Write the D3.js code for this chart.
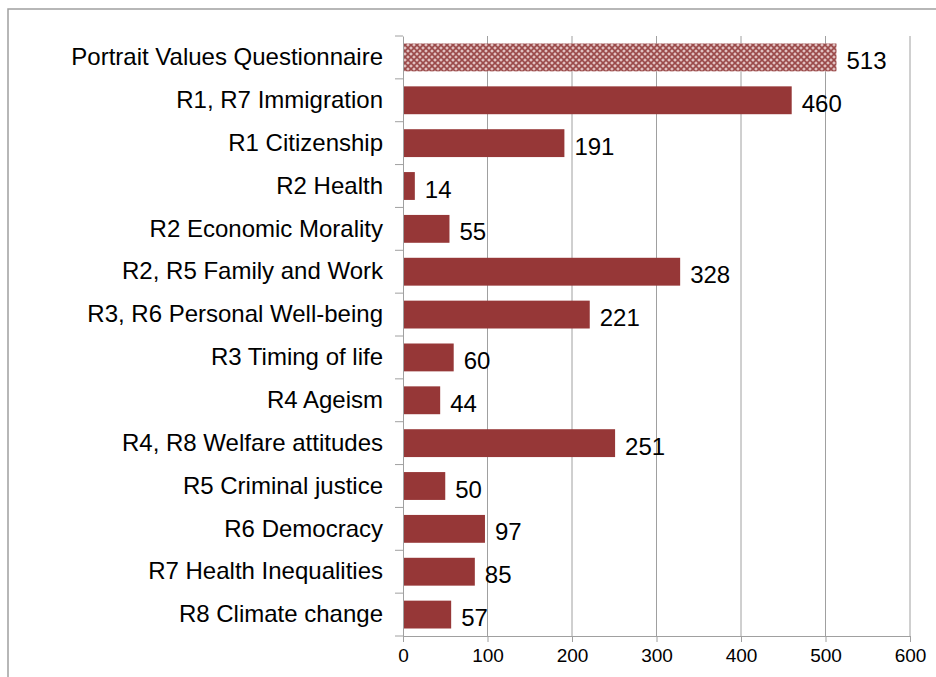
<!DOCTYPE html>
<html><head><meta charset="utf-8">
<script src="https://cdn.jsdelivr.net/npm/d3@7"></script>
<style>body{margin:0;background:#fff}svg{display:block}</style>
</head><body><svg id="c" width="936" height="677"></svg>
<script>
const categories=["Portrait Values Questionnaire","R1, R7 Immigration","R1 Citizenship","R2 Health","R2 Economic Morality","R2, R5 Family and Work","R3, R6 Personal Well-being","R3 Timing of life","R4 Ageism","R4, R8 Welfare attitudes","R5 Criminal justice","R6 Democracy","R7 Health Inequalities","R8 Climate change"];
const values=[513,460,191,14,55,328,221,60,44,251,50,97,85,57];
const xTicks=[0,100,200,300,400,500,600];
const svg=d3.select("#c");
const defs=svg.append("defs");
const p=defs.append("pattern").attr("id","hatch").attr("width",6).attr("height",6).attr("patternUnits","userSpaceOnUse");
p.append("rect").attr("width",6).attr("height",6).attr("fill","#e2c2c2");
p.append("path").attr("d","M0,0L6,6M6,0L0,6").attr("stroke","#9a4a4a").attr("stroke-width",1.6);
svg.append("path").attr("d","M8,677V9H936").attr("fill","none").attr("stroke","#a0a0a0").attr("stroke-width",1.5);
const x=d3.scaleLinear().domain([0,600]).range([403,910]);
const y=d3.scaleBand().domain(categories).range([36,636]).paddingInner(0.35).paddingOuter(0.175);
const g=svg.append("g");
g.selectAll(".grid").data(xTicks.slice(1)).join("line").attr("x1",d=>x(d)).attr("x2",d=>x(d)).attr("y1",36).attr("y2",636).attr("stroke","#a0a0a0");
g.selectAll(".bar").data(values).join("rect").attr("x",x(0)).attr("y",(d,i)=>y(categories[i])).attr("width",d=>x(d)-x(0)).attr("height",y.bandwidth())
 .attr("fill",(d,i)=>i==0?"url(#hatch)":"#963737");
g.selectAll(".lbl").data(values).join("text").attr("x",d=>x(d)+10).attr("y",(d,i)=>y(categories[i])+y.bandwidth()/2+3).attr("dy","0.36em")
 .attr("font-family","Arial, Liberation Sans").attr("font-size",24).text(d=>d);
const ya=svg.append("g").attr("transform",`translate(${x(0)},0)`).call(d3.axisLeft(y).tickSize(0).tickPadding(20));
ya.select(".domain").attr("stroke","#a0a0a0");
ya.selectAll("text").attr("font-family","Arial, Liberation Sans").attr("font-size",24).attr("fill","#000");
const step=y.step();
ya.selectAll(".bt").data(d3.range(15)).join("line").attr("x1",-8).attr("x2",0).attr("y1",i=>36+i*step).attr("y2",i=>36+i*step).attr("stroke","#a0a0a0");
const xa=svg.append("g").attr("transform","translate(0,636)").call(d3.axisBottom(x).tickValues(xTicks).tickSize(6).tickPadding(7));
xa.selectAll("line,.domain").attr("stroke","#a0a0a0");
xa.selectAll("text").attr("font-family","Arial, Liberation Sans").attr("font-size",19).attr("fill","#000");
</script></body></html>
